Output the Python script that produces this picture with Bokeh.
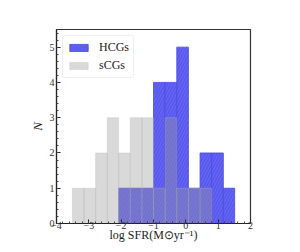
from bokeh.plotting import figure
from bokeh.embed import file_html
from bokeh.resources import INLINE
from bokeh.models import Legend, LegendItem, FixedTicker, Range1d

# bin edges (log SFR)
edges = [-3.51, -3.15, -2.79, -2.43, -2.08, -1.72, -1.36, -1.00, -0.64, -0.28, 0.08, 0.44, 0.80, 1.16, 1.51]
hcg_counts = [0, 0, 0, 0, 1, 1, 1, 4, 4, 5, 1, 2, 2, 1]
scg_counts = [1, 1, 2, 3, 2, 3, 3, 1, 3, 1, 1, 1, 0, 0]
x_ticks = [-4, -3, -2, -1, 0, 1, 2]
y_ticks = [0, 1, 2, 3, 4, 5]

FONT = "Liberation Serif"

p = figure(width=284, height=244, output_backend="svg", toolbar_location=None,
           x_range=Range1d(-4, 2), y_range=Range1d(0, 5.5),
           min_border_left=56, min_border_right=34, min_border_top=29, min_border_bottom=0)
p.background_fill_color = "white"
p.border_fill_color = "white"
p.outline_line_color = "#333333"
p.outline_line_width = 1.2
p.grid.visible = False

lefts = edges[:-1]
rights = edges[1:]
h_l = [l for l, c in zip(lefts, hcg_counts) if c > 0]
h_r = [r for r, c in zip(rights, hcg_counts) if c > 0]
h_c = [c for c in hcg_counts if c > 0]
s_l = [l for l, c in zip(lefts, scg_counts) if c > 0]
s_r = [r for r, c in zip(rights, scg_counts) if c > 0]
s_c = [c for c in scg_counts if c > 0]

hq = p.quad(left=h_l, right=h_r, bottom=0, top=h_c,
            fill_color="#6262f4", fill_alpha=1.0,
            line_color="#4a4ae0", line_width=0.8,
            hatch_pattern="/", hatch_color="#3c3cd0", hatch_alpha=0.55,
            hatch_scale=6, hatch_weight=0.7)
sq = p.quad(left=s_l, right=s_r, bottom=0, top=s_c,
            fill_color="#9a9a9a", fill_alpha=0.38,
            line_color="#bbbbbb", line_alpha=0.4, line_width=0.8)

legend = Legend(items=[LegendItem(label="HCGs", renderers=[hq]),
                       LegendItem(label="sCGs", renderers=[sq])],
                location="top_left")
legend.label_text_font = FONT
legend.label_text_font_size = "12px"
legend.label_text_color = "#222222"
legend.glyph_width = 23
legend.glyph_height = 9
legend.label_standoff = 9
legend.spacing = 3
legend.padding = 4
legend.margin = 6
legend.border_line_color = "#dddddd"
legend.border_line_width = 1
legend.border_radius = 3
legend.label_height = 10
p.add_layout(legend)

for ax in (p.xaxis[0], p.yaxis[0]):
    ax.major_label_text_font = FONT
    ax.major_label_text_font_size = "10px"
    ax.major_label_text_color = "#333333"
    ax.axis_label_text_font = FONT
    ax.axis_label_text_color = "#222222"
    ax.axis_line_color = "#222222"
    ax.axis_line_width = 1.2
    ax.major_tick_in = 4
    ax.major_tick_out = 0
    ax.minor_tick_in = 2
    ax.minor_tick_out = 0
    ax.major_tick_line_color = "#222222"
    ax.minor_tick_line_color = "#444444"

p.yaxis.major_label_standoff = 2
p.xaxis.major_label_standoff = -2
p.xaxis.ticker = FixedTicker(ticks=x_ticks,
                             minor_ticks=[x_ticks[0] + 0.2 * i for i in range(31)])
p.yaxis.ticker = FixedTicker(ticks=y_ticks,
                             minor_ticks=[0.2 * i for i in range(28)])
p.xaxis.major_label_overrides = {t: (("\u2212" + str(-t)) if t < 0 else str(t)) for t in x_ticks}
p.xaxis.axis_label = "log SFR(M\u2299yr\u207b\u00b9)"
p.xaxis.axis_label_text_font_size = "12px"
p.xaxis.axis_label_text_font_style = "normal"
p.xaxis.axis_label_standoff = -4
p.yaxis.axis_label = "N"
p.yaxis.axis_label_text_font_size = "13px"
p.yaxis.axis_label_text_font_style = "italic"
p.yaxis.axis_label_standoff = 2

open("out.html", "w").write(file_html(p, INLINE))
